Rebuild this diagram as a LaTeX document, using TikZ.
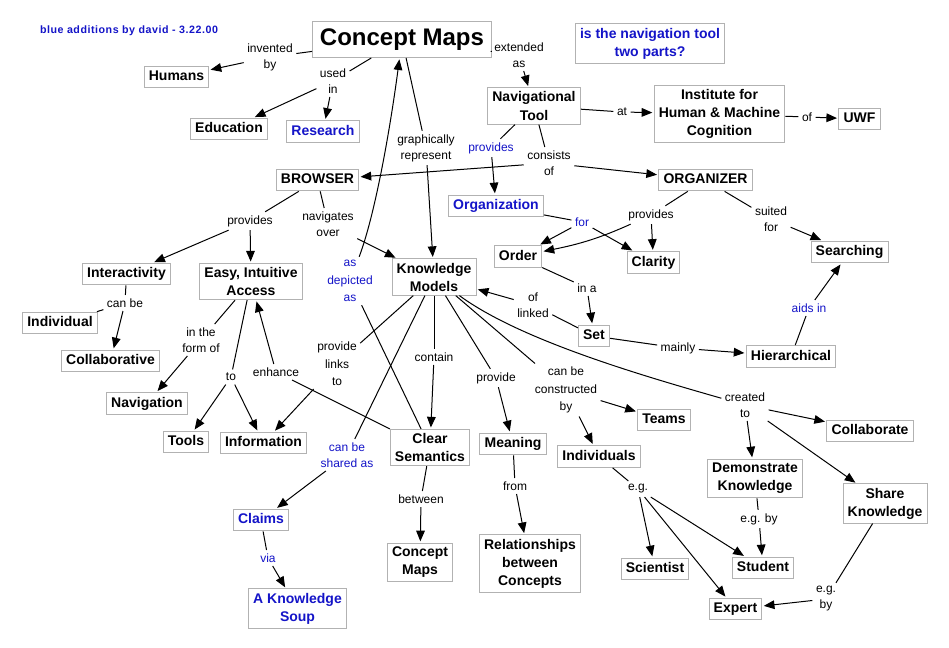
\documentclass[tikz,border=0pt]{standalone}
\usepackage{fontspec}
\setmainfont{Liberation Sans}
\usetikzlibrary{arrows.meta}
\definecolor{addblue}{RGB}{20,20,200}
\definecolor{boxgray}{RGB}{178,178,178}
\newcommand{\boxfont}{\bfseries\fontsize{10.5}{13.5}\selectfont}
\newcommand{\lblfont}{\fontsize{9}{12}\selectfont}
\tikzset{
  box/.style={draw=boxgray, line width=0.75pt, fill=white, font=\boxfont, inner xsep=3.5pt, inner ysep=3pt, align=center},
  one/.style={text height=8pt, text depth=2.3pt},
  lbl/.style={font=\lblfont, align=center, inner sep=2.5pt},
  add/.style={text=addblue},
  con/.style={line width=0.75pt},
  arr/.style={con, -{Triangle[length=8pt,width=6.5pt]}, shorten >=1pt},
}
\begin{document}
\begin{tikzpicture}[x=0.75pt,y=-0.75pt]
\useasboundingbox[fill=white] (0,0) rectangle (949,648);
% concepts
\node[font=\bfseries\fontsize{8}{9}\selectfont\addfontfeature{LetterSpace=5}, text=addblue] (note) at (129,31) {blue additions by david - 3.22.00};
\node[box, font=\bfseries\fontsize{18}{20}\selectfont, inner xsep=5.5pt, inner ysep=5pt, text height=13.2pt, text depth=3.8pt] (cm) at (402,39.5) {Concept Maps};
\node[box,one] (humans) at (176.5,77) {Humans};
\node[box,one] (education) at (229,129) {Education};
\node[box,one,add] (research) at (323,131.5) {Research};
\node[box,add] (question) at (650,43.5) {is the navigation tool\\two parts?};
\node[box] (nav) at (534,106) {Navigational\\Tool};
\node[box] (ihmc) at (719.5,114) {Institute for\\Human \& Machine\\Cognition};
\node[box,one] (uwf) at (859.5,119) {UWF};
\node[box,one] (browser) at (317.5,180) {BROWSER};
\node[box,one] (organizer) at (705.5,180) {ORGANIZER};
\node[box,one,add] (organization) at (496,206) {Organization};
\node[box,one] (order) at (518,256.5) {Order};
\node[box,one] (clarity) at (653.5,262.5) {Clarity};
\node[box,one] (searching) at (849.5,252) {Searching};
\node[box] (km) at (434,277) {Knowledge\\Models};
\node[box,one] (interact) at (126.5,274) {Interactivity};
\node[box] (easy) at (251,281.5) {Easy, Intuitive\\Access};
\node[box,one] (indiv) at (60,323) {Individual};
\node[box,one] (set) at (594,336) {Set};
\node[box,one] (hier) at (791,356.5) {Hierarchical};
\node[box,one] (collab) at (110.5,361) {Collaborative};
\node[box,one] (navigation) at (147,403.5) {Navigation};
\node[box,one] (tools) at (186,442) {Tools};
\node[box,one] (info) at (263.5,443) {Information};
\node[box] (csem) at (430,447.5) {Clear\\Semantics};
\node[box,one] (meaning) at (513,444) {Meaning};
\node[box,one] (individuals) at (599,456.5) {Individuals};
\node[box,one] (teams) at (664,420) {Teams};
\node[box,one] (collaborate) at (870,431) {Collaborate};
\node[box] (demo) at (755,478.5) {Demonstrate\\Knowledge};
\node[box] (share) at (885,503.5) {Share\\Knowledge};
\node[box,one,add] (claims) at (261,520) {Claims};
\node[box] (cmaps2) at (420,562.5) {Concept\\Maps};
\node[box] (rel) at (530,563.5) {Relationships\\between\\Concepts};
\node[box,one] (scientist) at (655,569) {Scientist};
\node[box,one] (student) at (763,568) {Student};
\node[box,one] (expert) at (735.5,609) {Expert};
\node[box,add] (soup) at (297.5,608.5) {A Knowledge\\Soup};
% linking phrases
\node[lbl] (l-invented) at (270,57) {invented\\by};
\node[lbl] (l-used) at (333,81) {used\\in};
\node[lbl] (l-extended) at (519,55) {extended\\as};
\node[lbl] (l-graph) at (426,148) {graphically\\represent};
\node[lbl,add] (l-provnav) at (491,148) {provides};
\node[lbl] (l-consists) at (549,163) {consists\\of};
\node[lbl] (l-at) at (622,112) {at};
\node[lbl] (l-of) at (807,117) {of};
\node[lbl] (l-provbr) at (250,221) {provides};
\node[lbl] (l-navover) at (328,224) {navigates\\over};
\node[lbl,add,font=\fontsize{9}{13}\selectfont] (l-depicted) at (350,281) {as\\depicted\\as};
\node[lbl] (l-provorg) at (651,215) {provides};
\node[lbl] (l-suited) at (771,219) {suited\\for};
\node[lbl,add] (l-for) at (582,222) {for};
\node[lbl] (l-ina) at (587,288) {in a};
\node[lbl] (l-oflinked) at (533,305) {of\\linked};
\node[lbl] (l-mainly) at (678,348) {mainly};
\node[lbl,add] (l-aids) at (809,308) {aids in};
\node[lbl] (l-canbe) at (125,303) {can be};
\node[lbl] (l-form) at (201,340) {in the\\form of};
\node[lbl] (l-to) at (231,377) {to};
\node[lbl] (l-enhance) at (276,372) {enhance};
\node[lbl,font=\fontsize{9}{13}\selectfont] (l-links) at (337,364) {provide\\links\\to};
\node[lbl] (l-contain) at (434,357) {contain};
\node[lbl] (l-provide) at (496,378) {provide};
\node[lbl,font=\fontsize{9}{13}\selectfont] (l-constructed) at (566,390) {can be\\constructed\\by};
\node[lbl] (l-created) at (745,405) {created\\to};
\node[lbl,add] (l-shared) at (347,455) {can be\\shared as};
\node[lbl] (l-between) at (421,499) {between};
\node[lbl] (l-from) at (515,486) {from};
\node[lbl,add] (l-via) at (268,558) {via};
\node[lbl] (l-eg) at (638,489) {e.g.};
\node[lbl] (l-egby1) at (759,519) {e.g. by};
\node[lbl] (l-egby2) at (826,599) {e.g.\\by};
% connectors
\draw[con] (cm) -- (l-invented); \draw[arr] (l-invented) -- (humans);
\draw[con] (cm) -- (l-used); \draw[arr] (l-used) -- (education); \draw[arr] (l-used) -- (research);
\draw[con] (cm) -- (l-extended); \draw[arr] (l-extended) -- (nav);
\draw[con] (cm) -- (l-graph); \draw[arr] (l-graph) -- (km);
\draw[con] (csem) -- (l-depicted); \draw[arr] (l-depicted) .. controls (375,215) and (390,130) .. (cm);
\draw[con] (browser) -- (l-provbr); \draw[arr] (l-provbr) -- (interact); \draw[arr] (l-provbr) -- (easy);
\draw[con] (browser) -- (l-navover); \draw[arr] (l-navover) -- (km);
\draw[con] (nav) -- (l-at); \draw[arr] (l-at) -- (ihmc);
\draw[con] (ihmc) -- (l-of); \draw[arr] (l-of) -- (uwf);
\draw[con] (nav) -- (l-provnav); \draw[arr] (l-provnav) -- (organization);
\draw[con] (nav) -- (l-consists); \draw[arr] (l-consists) -- (browser); \draw[arr] (l-consists) -- (organizer);
\draw[con] (organizer) -- (l-provorg); \draw[arr] (l-provorg) -- (clarity);
\draw[arr] (l-provorg) .. controls (600,238) and (580,244) .. (order);
\draw[con] (organizer) -- (l-suited); \draw[arr] (l-suited) -- (searching);
\draw[con] (organization) -- (l-for); \draw[arr] (l-for) -- (order); \draw[arr] (l-for) -- (clarity);
\draw[con] (order) -- (l-ina); \draw[arr] (l-ina) -- (set);
\draw[con] (set) -- (l-oflinked); \draw[arr] (l-oflinked) -- (km);
\draw[con] (set) -- (l-mainly); \draw[arr] (l-mainly) -- (hier);
\draw[con] (hier) -- (l-aids); \draw[arr] (l-aids) -- (searching);
\draw[con] (interact) -- (l-canbe); \draw[con] (l-canbe) -- (indiv); \draw[arr] (l-canbe) -- (collab);
\draw[con] (easy) -- (l-form); \draw[arr] (l-form) -- (navigation);
\draw[con] (easy) -- (l-to); \draw[arr] (l-to) -- (tools); \draw[arr] (l-to) -- (info);
\draw[con] (csem.north west) -- (l-enhance); \draw[arr] (l-enhance) -- (easy);
\draw[con] (km) -- (l-links); \draw[arr] (l-links) -- (info);
\draw[con] (km) -- (l-contain); \draw[arr] (l-contain) -- (csem);
\draw[con] (km) -- (l-provide); \draw[arr] (l-provide) -- (meaning);
\draw[con] (km) -- (l-constructed); \draw[arr] (l-constructed) -- (teams); \draw[arr] (l-constructed) -- (individuals);
\draw[con] (km) .. controls (520,340) and (640,375) .. (l-created);
\draw[arr] (l-created) -- (collaborate); \draw[arr] (l-created) -- (demo); \draw[arr] (l-created) -- (share);
\draw[con] (km) -- (l-shared); \draw[arr] (l-shared) -- (claims);
\draw[con] (meaning) -- (l-from); \draw[arr] (l-from) -- (rel);
\draw[con] (csem) -- (l-between); \draw[arr] (l-between) -- (cmaps2);
\draw[con] (claims) -- (l-via); \draw[arr] (l-via) -- (soup);
\draw[con] (individuals) -- (l-eg);
\draw[arr] (l-eg) -- (scientist); \draw[arr] (l-eg) -- (student); \draw[arr] (l-eg) -- (expert);
\draw[con] (demo) -- (l-egby1); \draw[arr] (l-egby1) -- (student);
\draw[con] (share) -- (l-egby2); \draw[arr] (l-egby2) -- (expert);
\end{tikzpicture}
\end{document}
